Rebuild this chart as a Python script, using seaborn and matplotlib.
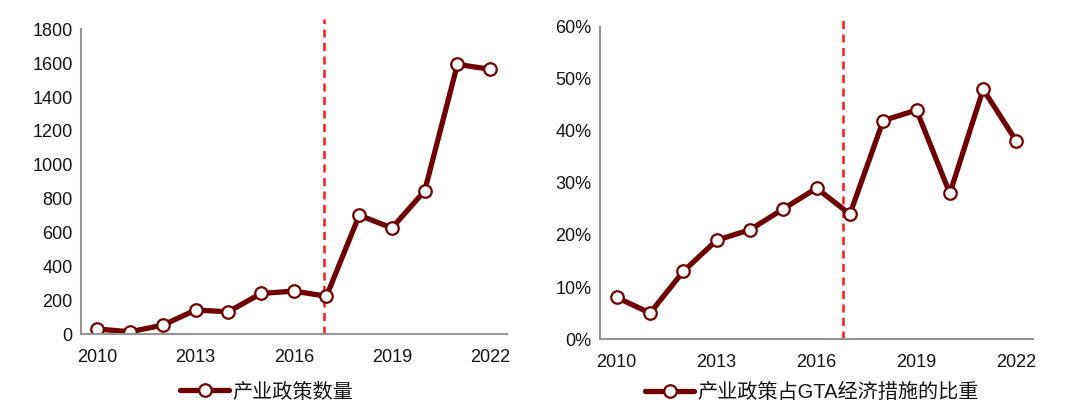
import numpy as np
import pandas as pd
import matplotlib
matplotlib.use("Agg")
import matplotlib.pyplot as plt
import seaborn as sns
from matplotlib.ticker import FixedLocator, PercentFormatter

# 数据
years = list(range(2010, 2023))
policy_count = [30, 14, 53, 142, 132, 240, 254, 224, 702, 627, 846, 1593, 1564]
policy_share = [8, 5, 13, 19, 21, 25, 29, 24, 42, 44, 28, 48, 38]
label_left = "产业政策数量"
label_right = "产业政策占GTA经济措施的比重"
shown_years = [2010, 2013, 2016, 2019, 2022]

sns.set_style("white")
plt.rcParams['font.family'] = ['Liberation Sans', 'Noto Sans CJK SC', 'DejaVu Sans']
plt.rcParams['text.color'] = "#151515"
plt.rcParams['xtick.color'] = "#151515"
plt.rcParams['ytick.color'] = "#151515"

line_col = "#6E0000"
spine_col = "#949494"

df = pd.DataFrame({"idx": np.arange(len(years)), "year": years,
                   "count": policy_count, "share": policy_share})

fig = plt.figure(figsize=(10.8, 4.13), dpi=100)
ax1 = fig.add_axes([0.075, 0.191, 0.394, 0.738])
ax2 = fig.add_axes([0.5556, 0.179, 0.401, 0.756])


def style_axis(ax, col, label, vline_x, vtop, leg_x, leg_y):
    sns.lineplot(data=df, x="idx", y=col, ax=ax, color=line_col, linewidth=3.8,
                 marker="o", markersize=9, markerfacecolor="white",
                 markeredgecolor=line_col, markeredgewidth=1.6, label=label)
    ax.axvline(vline_x, ymin=0, ymax=vtop, color="#FF1A1A", linewidth=1.8,
               linestyle=(0, (3.2, 2.2)), clip_on=False, zorder=1)
    ax.set_xlim(-0.5, len(years) - 0.5)
    ax.xaxis.set_major_locator(FixedLocator([years.index(y) for y in shown_years]))
    ax.set_xticklabels([str(y) for y in shown_years])
    ax.xaxis.set_minor_locator(FixedLocator(np.arange(-0.5, len(years), 1.0)))
    ax.tick_params(axis="x", which="major", length=0, pad=11, labelsize=13)
    ax.tick_params(axis="x", which="minor", length=5, width=1.3, color=spine_col,
                   direction="out")
    ax.tick_params(axis="y", length=0, labelsize=13, pad=6)
    ax.set_xlabel("")
    ax.set_ylabel("")
    for s in ["top", "right"]:
        ax.spines[s].set_visible(False)
    for s in ["left", "bottom"]:
        ax.spines[s].set_color(spine_col)
        ax.spines[s].set_linewidth(1.5)
    ax.legend(loc="center", bbox_to_anchor=(leg_x, leg_y), frameon=False,
              handlelength=2.4, handletextpad=0.2, fontsize=14.5)


style_axis(ax1, "count", label_left, 6.93, 1.033, 0.437, -0.19)
ax1.set_ylim(0, 1800)
ax1.set_yticks(np.arange(0, 1801, 200))

style_axis(ax2, "share", label_right, 6.78, 1.037, 0.49, -0.17)
ax2.set_ylim(0, 60)
ax2.set_yticks(np.arange(0, 61, 10))
ax2.yaxis.set_major_formatter(PercentFormatter(decimals=0))

fig.savefig("out.png", dpi=100)
